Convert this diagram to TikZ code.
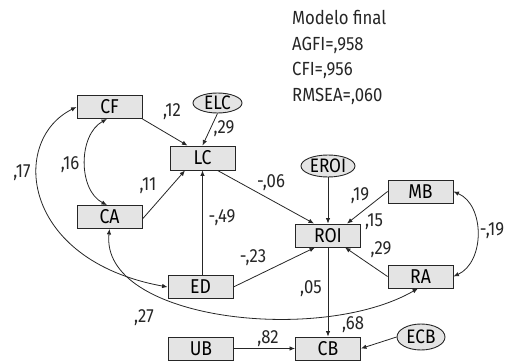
\documentclass[tikz,border=0pt]{standalone}
\usepackage{fontspec}
\setmainfont{Fira Sans}[FakeStretch=0.88]
\usetikzlibrary{arrows.meta,shapes.geometric}
\definecolor{boxfill}{HTML}{E4E4E4}
\definecolor{ink}{HTML}{262626}
\begin{document}
\begin{tikzpicture}[x=1pt,y=-1pt,
  var/.style={draw=ink,fill=boxfill,line width=0.9pt,minimum width=65pt,minimum height=23pt,inner sep=0pt,font=\fontsize{20}{20}\selectfont},
  err/.style={ellipse,draw=ink,fill=boxfill,line width=0.9pt,inner sep=0pt,font=\fontsize{19.5}{19.5}\selectfont},
  arr/.style={-{Latex[length=5.5pt,width=4.5pt]},line width=0.8pt,draw=ink},
  darr/.style={{Latex[length=5.5pt,width=4.5pt]}-{Latex[length=5.5pt,width=4.5pt]},line width=0.8pt,draw=ink},
  lab/.style={inner sep=0pt,text=ink,font=\fontsize{19}{19}\selectfont}]
\useasboundingbox (0,0) rectangle (509,361);

% header
\node[anchor=north west,align=left,inner sep=0pt,text=ink,font=\fontsize{19}{25.5}\selectfont] (hdr) at (292,10.5)
  {Modelo final\\AGFI=,958\\CFI=,956\\RMSEA=,060};

% variables
\node[var] (CF) at (109.5,107) {CF};
\node[var] (CA) at (109.5,217) {CA};
\node[var,minimum height=24pt] (LC) at (202.5,158) {LC};
\node[var] (ED) at (200.5,287) {ED};
\node[var] (ROI) at (328,235.5) {ROI};
\node[var] (MB) at (420.5,191.5) {MB};
\node[var] (RA) at (420.5,276.5) {RA};
\node[var] (UB) at (201,348.5) {UB};
\node[var] (CB) at (328,348.5) {CB};

% errors
\node[err,minimum width=49pt,minimum height=20pt] (ELC) at (217.5,103) {ELC};
\node[err,minimum width=54pt,minimum height=22pt] (EROI) at (328,166) {EROI};
\node[err,minimum width=48pt,minimum height=26pt] (ECB) at (421,337) {ECB};

% paths
\draw[arr] (CF.south east) -- ([xshift=-15pt]LC.north);
\draw[arr] (ELC.south) -- (LC.north);
\draw[arr] ([yshift=-2pt]CA.east) -- ([xshift=-17.5pt]LC.south);
\draw[arr] (LC.south |- ED.north) -- (LC.south);
\draw[arr] ([xshift=15pt]LC.south) -- ([xshift=-14pt]ROI.north);
\draw[arr] (EROI.south) -- (ROI.north);
\draw[arr] (MB.west) -- ([xshift=19pt]ROI.north);
\draw[arr] (RA.west) -- ([xshift=17pt]ROI.south);
\draw[arr] (ED.east) -- ([xshift=-13pt]ROI.south);
\draw[arr] (ROI.south) -- (CB.north);
\draw[arr] (UB.east) -- (CB.west);
\draw[arr] (ECB.west) -- (CB.east);

% correlations
\draw[darr] ([xshift=-2.5pt]CF.south) .. controls (78,135) and (78,190) .. ([xshift=-2.5pt]CA.north);
\draw[darr] (CF.west) .. controls (10,140) and (20,260) .. (ED.west);
\draw[darr] (CA.south) .. controls (100,320) and (320,345) .. ([xshift=-2.5pt]RA.south);
\draw[darr] (MB.east) .. controls (485,205) and (485,262) .. (RA.east);

% labels
\node[lab] (l12) at (172,112) {,12};
\node[lab] (l29a) at (224,129) {,29};
\node[lab] (l16) at (70,165) {,16};
\node[lab] (l17) at (22,173) {,17};
\node[lab] (l11) at (148,186) {,11};
\node[lab] (l49) at (222,218) {-,49};
\node[lab] (l06) at (271,183) {-,06};
\node[lab] (l19a) at (360,196) {,19};
\node[lab] (l15) at (374,222) {,15};
\node[lab] (l29b) at (381,250) {,29};
\node[lab] (l19b) at (492,231) {-,19};
\node[lab] (l23) at (253,258) {-,23};
\node[lab] (l05) at (311,289) {,05};
\node[lab] (l27) at (144,318) {,27};
\node[lab] (l68) at (353,325) {,68};
\node[lab] (l82) at (268,339) {,82};
\end{tikzpicture}
\end{document}
